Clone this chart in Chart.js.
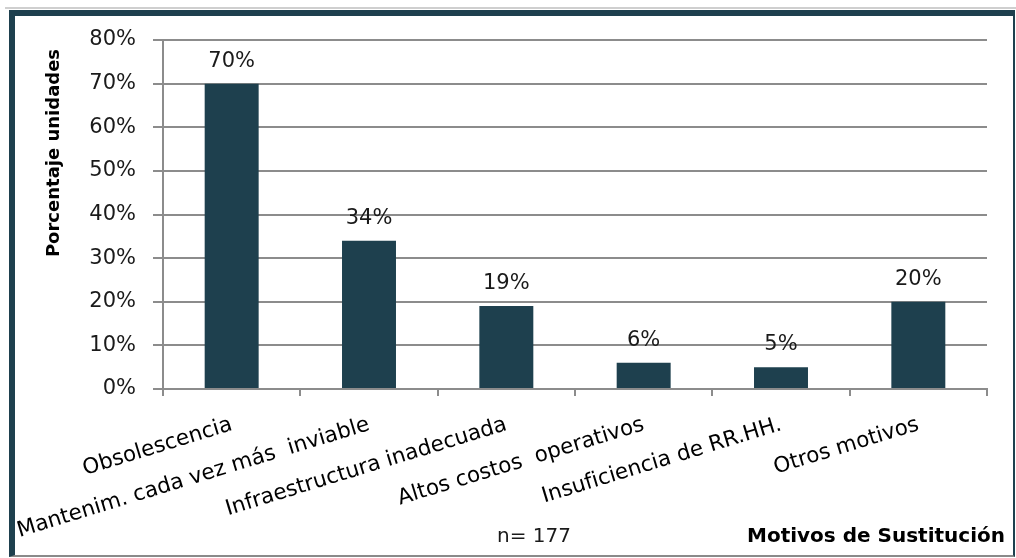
<!DOCTYPE html>
<html lang="es">
<head>
<meta charset="utf-8">
<title>Motivos de Sustitución</title>
<script src="https://cdn.jsdelivr.net/npm/chart.js@4/dist/chart.umd.min.js"></script>
<style>
  html, body { margin: 0; padding: 0; background: #fff; }
  #topline { position: absolute; left: 5px; top: 7px; width: 1011px; height: 2px; background: #cfcfcf; }
  #frame {
    position: absolute; left: 9px; top: 10px; width: 1006px; height: 547px;
    box-sizing: border-box;
    border-left: 6px solid #1e404e;
    border-top: 6px solid #1e404e;
    border-right: 2px solid #1e404e;
    border-bottom: 2px solid #8a8a8a;
  }
  #chart { position: absolute; left: 0; top: 0; }
</style>
</head>
<body>
<div id="topline"></div>
<div id="frame"></div>
<canvas id="chart" width="1016" height="558"></canvas>
<script>
// motivos de sustitución, % de unidades (n = 177)
const motivos = [
  "Obsolescencia",
  "Mantenim. cada vez más  inviable",
  "Infraestructura inadecuada",
  "Altos costos  operativos",
  "Insuficiencia de RR.HH.",
  "Otros motivos",
];
const porcentajes = [70, 34, 19, 6, 5, 20];
const yMax = 80;
const yStep = 10;

const BAR_COLOR = "#1e404e";
const GRID_COLOR = "#8c8c8c";
const TEXT_COLOR = "#1a1a1a";

Chart.defaults.font.family = "'DejaVu Sans', sans-serif";
Chart.defaults.font.size = 21;
Chart.defaults.color = TEXT_COLOR;

// value labels above each bar plus the axis captions
const extraText = {
  id: "extraText",
  afterDatasetsDraw(chart) {
    const { ctx } = chart;
    const meta = chart.getDatasetMeta(0);
    ctx.save();
    ctx.fillStyle = TEXT_COLOR;
    ctx.font = "21px 'DejaVu Sans', sans-serif";
    ctx.textAlign = "center";
    ctx.textBaseline = "alphabetic";
    meta.data.forEach((bar, i) => {
      ctx.fillText(porcentajes[i] + "%", bar.x, bar.y - 17);
    });

    // y axis title
    ctx.save();
    ctx.translate(59, 153);
    ctx.rotate(-Math.PI / 2);
    ctx.font = "bold 18px 'DejaVu Sans', sans-serif";
    ctx.fillStyle = "#000";
    ctx.fillText("Porcentaje unidades", 0, 0);
    ctx.restore();

    ctx.textAlign = "left";
    ctx.font = "20px 'DejaVu Sans', sans-serif";
    ctx.fillText("n= 177", 497, 542);

    ctx.textAlign = "right";
    ctx.font = "bold 20px 'DejaVu Sans', sans-serif";
    ctx.fillStyle = "#000";
    ctx.fillText("Motivos de Sustitución", 1005, 542);
    ctx.restore();
  },
};

new Chart(document.getElementById("chart"), {
  type: "bar",
  data: {
    labels: motivos,
    datasets: [
      {
        data: porcentajes,
        backgroundColor: BAR_COLOR,
        borderWidth: 0,
        barPercentage: 0.393,
        categoryPercentage: 1,
      },
    ],
  },
  options: {
    responsive: false,
    animation: false,
    layout: { padding: { left: 0, right: 29, top: 40, bottom: 0 } },
    plugins: {
      legend: { display: false },
      tooltip: { enabled: false },
    },
    scales: {
      x: {
        afterFit(scale) {
          scale.height = 169;
        },
        grid: {
          drawOnChartArea: false,
          drawTicks: true,
          tickLength: 7,
          color: GRID_COLOR,
          lineWidth: 2,
        },
        border: { color: GRID_COLOR, width: 2 },
        ticks: {
          minRotation: 17,
          maxRotation: 17,
          autoSkip: false,
          padding: 16,
          color: "#000",
          font: { size: 21.5 },
        },
      },
      y: {
        min: 0,
        max: yMax,
        afterFit(scale) {
          scale.width = 163;
        },
        grid: {
          color: GRID_COLOR,
          lineWidth: 2,
          tickLength: 10,
        },
        border: { color: GRID_COLOR, width: 2 },
        ticks: {
          stepSize: yStep,
          padding: 17,
          callback: (v) => v + "%",
        },
      },
    },
  },
  plugins: [extraText],
});
</script>
</body>
</html>
